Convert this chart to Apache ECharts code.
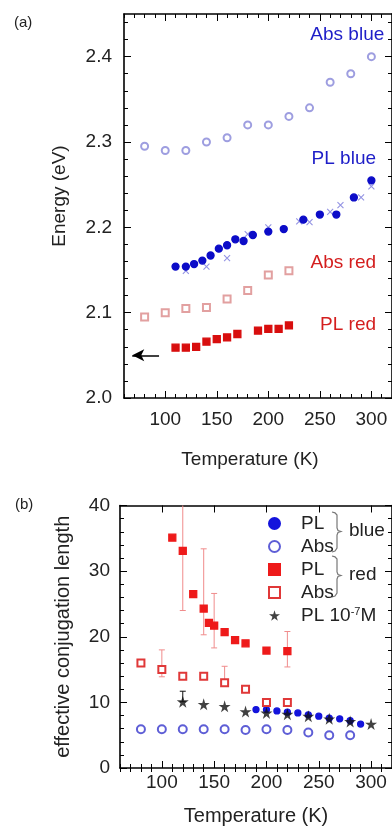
<!DOCTYPE html>
<html><head><meta charset="utf-8">
<script src="https://cdn.jsdelivr.net/npm/echarts@6/dist/echarts.min.js"></script>
<style>html,body{margin:0;padding:0;background:#fff}#c{width:392px;height:827px}</style>
</head><body><div id="c"></div>
<script>
// ---------- Panel (a): Energy (eV) vs Temperature (K) ----------
const tempAbsBlueA = [80,100,120,140,160,180,200,220,240,260,280,300];
const absBlueA = [2.295,2.29,2.29,2.30,2.305,2.32,2.32,2.33,2.34,2.37,2.38,2.40];
const tempPlBlueA = [110,120,128,136,144,152,160,168,176,185,200,215,234,250,266,283,300];
const plBlueA = [2.154,2.154,2.157,2.161,2.167,2.175,2.179,2.186,2.184,2.191,2.195,2.198,2.209,2.215,2.215,2.235,2.255];
const tempCrossA = [120,140,160,180,200,230,240,260,270,290,300];
const crossA = [2.149,2.154,2.164,2.192,2.200,2.207,2.206,2.218,2.226,2.235,2.248];
const tempAbsRedA = [80,100,120,140,160,180,200,220];
const absRedA = [2.095,2.100,2.105,2.106,2.116,2.126,2.144,2.149];
const tempPlRedA = [110,120,130,140,150,160,170,190,200,210,220];
const plRedA = [2.059,2.059,2.060,2.066,2.069,2.071,2.075,2.079,2.081,2.081,2.085];
const arrowFromA = [94, 2.05];
const arrowToA = [68, 2.05];
const noteTextA = ['Abs blue','PL blue','Abs red','PL red'];
const noteTempA = [313, 305, 305, 305];
const noteEnergyA = [2.425, 2.28, 2.158, 2.085];
const xTicksA = [100,150,200,250,300];
const yTicksA = [2.0,2.1,2.2,2.3,2.4];

// ---------- Panel (b): effective conjugation length ----------
const tempAbsBlueB = [80,100,120,140,160,180,200,220,240,260,280];
const absBlueB = [5.9,5.9,5.9,5.9,5.9,5.8,5.9,5.8,5.4,5.0,5.0];
const tempPlBlueB = [190,200,210,220,230,240,250,260,270,280,290];
const plBlueB = [8.9,8.9,8.7,8.5,8.4,8.1,7.9,7.6,7.5,7.2,6.7];
const tempPlRedB = [110,120,130,140,145,150,160,170,180,200,220];
const plRedB = [35.1,33.1,26.5,24.3,22.1,21.7,20.7,19.5,19.0,17.9,17.8];
const plRedErrTemp = [120,140,150,220];
const plRedErrLow = [24.0,20.3,18.3,15.4];
const plRedErrHigh = [42.1,33.4,26.6,20.8];
const tempAbsRedB = [80,100,120,140,160,180,200,220];
const absRedB = [16,15,14,14,13,12,10,10];
const absRedErrTemp = [100,160];
const absRedErrLow = [13.9,12.5];
const absRedErrHigh = [18.0,15.5];
const tempStarB = [120,140,160,180,200,220,240,260,280,300];
const starB = [10.1,9.7,9.4,8.6,8.4,8.2,7.9,7.5,7.1,6.7];
const starErrTemp = [120];
const starErrLow = [10.1];
const starErrHigh = [11.7];
const xTicksB = [100,150,200,250,300];
const yTicksB = [0,10,20,30,40];

const F = '"Liberation Sans", Arial, Helvetica, sans-serif';
const zip = (xs, ys) => xs.map((x, i) => [x, ys[i]]);
const zip3 = (xs, a, b) => xs.map((x, i) => [x, a[i], b[i]]);
function minorTicks(min, max, step, majors) {
  const out = [];
  const n = Math.round((max - min) / step);
  for (let i = 0; i <= n; i++) {
    const v = +(min + i * step).toFixed(6);
    if (!majors.some(m => Math.abs(m - v) < step / 10)) out.push(v);
  }
  return out;
}
function axisSet(dim, grid, min, max, majors, minors, o) {
  const base = { type: 'value', gridIndex: grid, min: min, max: max, splitLine: { show: false },
    axisLine: { onZero: false, lineStyle: { color: '#000', width: 1.6 } } };
  const pA = dim === 'x' ? 'bottom' : 'left', pB = dim === 'x' ? 'top' : 'right';
  const tk = (len, vals) => ({ show: true, inside: true, length: len, customValues: vals, lineStyle: { color: '#000', width: 1 } });
  return [
    Object.assign({}, base, { position: pA, axisTick: tk(7, majors),
      axisLabel: { customValues: majors, margin: o.margin, fontSize: 19, color: '#222', fontFamily: F, formatter: o.fmt },
      name: o.name, nameLocation: 'middle', nameGap: o.nameGap,
      nameTextStyle: { fontSize: o.nameSize, color: '#222', fontFamily: F, padding: o.namePad || 0 } }),
    Object.assign({}, base, { position: pA, axisTick: tk(4, minors), axisLabel: { show: false }, axisLine: { show: false } }),
    Object.assign({}, base, { position: pB, axisTick: tk(7, majors), axisLabel: { show: false } }),
    Object.assign({}, base, { position: pB, axisTick: tk(4, minors), axisLabel: { show: false }, axisLine: { show: false } })
  ];
}
function errRender(color) {
  return function (params, api) {
    const x = api.value(0), lo = api.value(1), hi = api.value(2);
    const cs = params.coordSys;
    const p1 = api.coord([x, lo]), p2 = api.coord([x, hi]);
    const w = 3, top = Math.max(p2[1], cs.y);
    const st = { stroke: color, lineWidth: 1 };
    const ch = [
      { type: 'line', shape: { x1: p1[0], y1: p1[1], x2: p2[0], y2: top }, style: st },
      { type: 'line', shape: { x1: p1[0] - w, y1: p1[1], x2: p1[0] + w, y2: p1[1] }, style: st }
    ];
    if (p2[1] >= cs.y) ch.push({ type: 'line', shape: { x1: p2[0] - w, y1: p2[1], x2: p2[0] + w, y2: p2[1] }, style: st });
    return { type: 'group', children: ch };
  };
}
const STAR = 'path://M50,0 L61,35 L98,35 L68,57 L79,91 L50,70 L21,91 L32,57 L2,35 L39,35 Z';
const CROSS = 'path://M0,0 L10,10 M10,0 L0,10';

const xA = axisSet('x', 0, 60, 320, xTicksA, minorTicks(60, 320, 10, xTicksA),
  { margin: 12, fmt: v => String(v), name: 'Temperature (K)', nameGap: 52, nameSize: 19, namePad: [0, 16, 0, 0] });
const yA = axisSet('y', 0, 2.0, 2.45, yTicksA, minorTicks(2.0, 2.44, 0.02, yTicksA),
  { margin: 12, fmt: v => v.toFixed(1), name: 'Energy (eV)', nameGap: 55, nameSize: 19, namePad: [0, 0, 0, 20] });
const xB = axisSet('x', 1, 60, 320, xTicksB, minorTicks(60, 320, 10, xTicksB),
  { margin: 5, fmt: v => String(v), name: 'Temperature (K)', nameGap: 38, nameSize: 20 });
const yB = axisSet('y', 1, 0, 40, yTicksB, minorTicks(0, 40, 2, yTicksB),
  { margin: 10, fmt: v => String(v), name: 'effective conjugation length', nameGap: 47, nameSize: 20 });

const sc = (name, xi, yi, data, symbol, size, color, extra) => Object.assign({
  name: name, type: 'scatter', xAxisIndex: xi, yAxisIndex: yi, data: data, symbol: symbol, symbolSize: size,
  itemStyle: { color: color, borderColor: color, borderWidth: 1.3, opacity: 1 }, z: 3
}, extra || {});

const noteColors = ['#1e1ec8', '#1e1ec8', '#d41e1e', '#d41e1e'];
const noteSeries = noteTextA.map((t, i) => ({
  name: 'note' + i, type: 'scatter', xAxisIndex: 0, yAxisIndex: 0, symbolSize: 1, silent: true, z: 5,
  itemStyle: { color: 'rgba(0,0,0,0)' },
  data: [{ value: [noteTempA[i], noteEnergyA[i]], name: t }],
  label: { show: true, position: [0, 0], align: 'right', verticalAlign: 'middle', fontSize: 19, fontFamily: F,
    color: noteColors[i], opacity: 1, formatter: p => p.name }
}));

const legendNames = { PLb: 'PL', Absb: 'Abs', PLr: 'PL', Absr: 'Abs', PL7: 'PL 10{sup|-7}M' };

const option = {
  animation: false,
  backgroundColor: '#fff',
  grid: [
    { left: 124, top: 14, width: 272, height: 384 },
    { left: 120, top: 505.5, width: 275, height: 263 }
  ],
  xAxis: xA.concat(xB),
  yAxis: yA.concat(yB),
  legend: {
    data: ['PLb', 'Absb', 'PLr', 'Absr', 'PL7'], orient: 'vertical', left: 268, top: 514,
    itemWidth: 11, itemHeight: 11, itemGap: 4, padding: 0, selectedMode: false,
    formatter: n => '{s|}' + legendNames[n],
    textStyle: { fontSize: 19, lineHeight: 19, color: '#222', fontFamily: F,
      rich: { s: { width: 16, fontSize: 19, lineHeight: 19 },
              sup: { fontSize: 11, verticalAlign: 'top', lineHeight: 19, color: '#222', fontFamily: F } } }
  },
  graphic: [
    { type: 'text', left: 14, top: 15, style: { text: '(a)', fontSize: 15, fill: '#222', fontFamily: F } },
    { type: 'text', left: 15, top: 497, style: { text: '(b)', fontSize: 15, fill: '#222', fontFamily: F } },
    { type: 'polyline', shape: { points: [[332,512],[335,512.8],[337,515],[337,528],[338,530.5],[341,531.5],[338,532.5],[337,535],[337,548],[335,551],[332,552]] },
      style: { stroke: '#777', fill: null, lineWidth: 1.2 } },
    { type: 'polyline', shape: { points: [[332,556],[335,556.8],[337,559],[337,572],[338,574.5],[341,575.5],[338,576.5],[337,579],[337,593],[335,596],[332,597]] },
      style: { stroke: '#777', fill: null, lineWidth: 1.2 } },
    { type: 'text', left: 349, top: 521, style: { text: 'blue', fontSize: 19, fill: '#222', fontFamily: F } },
    { type: 'text', left: 349, top: 565, style: { text: 'red', fontSize: 19, fill: '#222', fontFamily: F } }
  ],
  series: [
    // panel a
    sc('absBlueA', 0, 0, zip(tempAbsBlueA, absBlueA), 'emptyCircle', 7, '#9e9ee0'),
    sc('crossA', 0, 0, zip(tempCrossA, crossA), CROSS, 6, '#7878dc', { itemStyle: { color: 'rgba(0,0,0,0)', borderColor: '#7878dc', borderWidth: 1.1 } }),
    sc('plBlueA', 0, 0, zip(tempPlBlueA, plBlueA), 'circle', 7, '#0c0cc8'),
    sc('absRedA', 0, 0, zip(tempAbsRedA, absRedA), 'emptyRect', 7, '#e2a0a0'),
    sc('plRedA', 0, 0, zip(tempPlRedA, plRedA), 'rect', 7, '#d80e0e', {
      markLine: { silent: true, symbol: ['arrow', 'none'], symbolSize: [9, 12], label: { show: false },
        lineStyle: { color: '#000', width: 1.5, type: 'solid' },
        data: [[{ coord: arrowToA }, { coord: arrowFromA }]] }
    })
  ].concat(noteSeries).concat([
    // panel b error bars
    { name: 'errPlRed', type: 'custom', xAxisIndex: 4, yAxisIndex: 4, renderItem: errRender('#f08c8c'),
      data: zip3(plRedErrTemp, plRedErrLow, plRedErrHigh), z: 2, silent: true },
    { name: 'errAbsRed', type: 'custom', xAxisIndex: 4, yAxisIndex: 4, renderItem: errRender('#f08c8c'),
      data: zip3(absRedErrTemp, absRedErrLow, absRedErrHigh), z: 2, silent: true },
    { name: 'errStar', type: 'custom', xAxisIndex: 4, yAxisIndex: 4, renderItem: errRender('#111'),
      data: zip3(starErrTemp, starErrLow, starErrHigh), z: 2, silent: true },
    // panel b markers
    sc('PLb', 4, 4, zip(tempPlBlueB, plBlueB), 'circle', 6, '#1414dc'),
    sc('Absb', 4, 4, zip(tempAbsBlueB, absBlueB), 'emptyCircle', 8, '#3636cc', { itemStyle: { color: '#3636cc', borderColor: '#3636cc', borderWidth: 1.5 } }),
    sc('PLr', 4, 4, zip(tempPlRedB, plRedB), 'rect', 7, '#ee1a1a'),
    sc('Absr', 4, 4, zip(tempAbsRedB, absRedB), 'emptyRect', 7, '#e03838'),
    sc('PL7', 4, 4, zip(tempStarB, starB), STAR, 12, '#111', { itemStyle: { color: '#111', borderColor: '#111', borderWidth: 0 } })
  ])
};
const chart = echarts.init(document.getElementById('c'), null, { renderer: 'canvas' });
chart.setOption(option);
</script>
</body></html>
